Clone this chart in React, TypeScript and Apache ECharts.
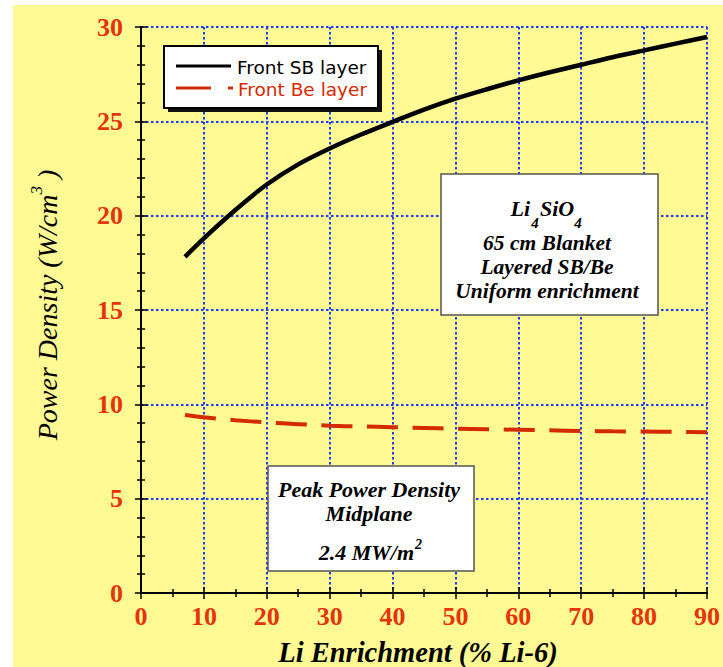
import React, { useEffect, useRef } from "react";
import * as echarts from "echarts";

// Li-6 enrichment (%) at which the power density was evaluated
const enrichment = [7, 10, 15, 20, 25, 30, 35, 40, 45, 50, 55, 60, 65, 70, 75, 80, 85, 90];
// Peak power density (W/cm^3), front SB layer
const frontSB = [
  17.82, 18.8, 20.3, 21.65, 22.72, 23.56, 24.3, 24.97, 25.62, 26.2, 26.7, 27.17, 27.6, 28.0, 28.4,
  28.76, 29.12, 29.47,
];
// Peak power density (W/cm^3), front Be layer
const frontBe = [
  9.43, 9.31, 9.16, 9.04, 8.95, 8.87, 8.83, 8.79, 8.75, 8.71, 8.68, 8.65, 8.62, 8.59, 8.57, 8.56,
  8.54, 8.52,
];

const seriesNames = ["Front SB layer", "Front Be layer"];
const xTitle = "Li Enrichment (% Li-6)";
const yTitle = "Power Density (W/cm";
const blanketLines = ["65 cm Blanket", "Layered SB/Be", "Uniform enrichment"];
const peakLines = ["Peak Power Density", "Midplane"];

const RED_LINE = "#d42a00";
const RED_TEXT = "#e5330a";
const GRID_BLUE = "#1e3cff";
const YELLOW = "#fffa94";
const SERIF = "Liberation Serif, Times New Roman, serif";
const SANS = "DejaVu Sans, Verdana, sans-serif";

export default function App() {
  const ref = useRef<HTMLDivElement>(null);

  useEffect(() => {
    if (!ref.current) return;
    const chart = echarts.init(ref.current, null, { renderer: "svg" });

    const tickLabel = {
      color: RED_TEXT,
      fontFamily: "Liberation Serif",
      fontWeight: "bold" as const,
      fontSize: 26,
    };
    const axisLine = { show: true, lineStyle: { color: "#000", width: 2 } };
    const majorTick = { show: true, inside: true, length: 6, lineStyle: { color: "#000", width: 1.5 } };
    const splitLine = {
      show: true,
      lineStyle: { color: GRID_BLUE, width: 2, type: [2.5, 2.5] as number[] },
    };

    const boxText = (text: string, x: number, y: number, size = 22, lineHeight = 22) => ({
      type: "text",
      x,
      y,
      z: 101,
      style: {
        text,
        fill: "#000",
        font: `italic bold ${size}px ${SERIF}`,
        lineHeight,
        align: "center",
        verticalAlign: "middle",
      },
    });

    chart.setOption({
      animation: false,
      backgroundColor: YELLOW,
      grid: { left: 141, top: 27, right: 11, bottom: 74, containLabel: false },
      xAxis: [
        {
          type: "value",
          min: 0,
          max: 90,
          interval: 10,
          position: "bottom",
          axisLine,
          axisTick: majorTick,
          minorTick: { show: true, splitNumber: 2, length: 4, lineStyle: { color: "#000", width: 1.5 } },
          axisLabel: { ...tickLabel, margin: 10 },
          splitLine,
        },
        {
          type: "value",
          min: 0,
          max: 90,
          interval: 10,
          position: "top",
          axisLine,
          axisTick: majorTick,
          minorTick: { show: true, splitNumber: 2, length: 4, lineStyle: { color: "#000", width: 1.5 } },
          axisLabel: { show: false },
          splitLine: { show: false },
        },
      ],
      yAxis: [
        {
          type: "value",
          min: 0,
          max: 30,
          interval: 5,
          position: "left",
          axisLine,
          axisTick: majorTick,
          minorTick: { show: true, splitNumber: 5, length: 4, lineStyle: { color: "#000", width: 1.5 } },
          axisLabel: { ...tickLabel, margin: 18 },
          splitLine,
        },
        {
          type: "value",
          min: 0,
          max: 30,
          interval: 5,
          position: "right",
          axisLine,
          axisTick: majorTick,
          minorTick: { show: true, splitNumber: 5, length: 4, lineStyle: { color: "#000", width: 1.5 } },
          axisLabel: { show: false },
          splitLine: { show: false },
        },
      ],
      series: [
        {
          name: seriesNames[0],
          type: "line",
          smooth: 0.3,
          symbol: "none",
          z: 5,
          lineStyle: { color: "#000", width: 4.5 },
          data: enrichment.map((x, i) => [x, frontSB[i]]),
        },
        {
          name: seriesNames[1],
          type: "line",
          smooth: 0.3,
          symbol: "none",
          z: 5,
          lineStyle: { color: RED_LINE, width: 4, type: [31, 14.6], cap: "butt" },
          data: enrichment.map((x, i) => [x, frontBe[i]]),
        },
      ],
      graphic: [
        // white page margins around the yellow sheet
        { type: "rect", shape: { x: 0, y: 0, width: 723, height: 5 }, style: { fill: "#fff" }, z: 100 },
        { type: "rect", shape: { x: 0, y: 0, width: 13, height: 667 }, style: { fill: "#fff" }, z: 100 },

        // legend
        { type: "rect", shape: { x: 168, y: 50, width: 214, height: 62 }, style: { fill: "#111" }, z: 100 },
        {
          type: "rect",
          shape: { x: 164, y: 46, width: 214, height: 62 },
          style: { fill: "#fff", stroke: "#000", lineWidth: 2 },
          z: 101,
        },
        { type: "line", shape: { x1: 176, y1: 66, x2: 231, y2: 66 }, style: { stroke: "#000", lineWidth: 3 }, z: 102 },
        { type: "line", shape: { x1: 176, y1: 88, x2: 211, y2: 88 }, style: { stroke: RED_LINE, lineWidth: 3 }, z: 102 },
        { type: "line", shape: { x1: 228, y1: 88, x2: 233, y2: 88 }, style: { stroke: RED_LINE, lineWidth: 3 }, z: 102 },
        {
          type: "text",
          x: 237,
          y: 67,
          z: 102,
          style: { text: seriesNames[0], fill: "#000", font: `18.5px ${SANS}`, align: "left", verticalAlign: "middle" },
        },
        {
          type: "text",
          x: 238,
          y: 89,
          z: 102,
          style: { text: seriesNames[1], fill: RED_LINE, font: `18.5px ${SANS}`, align: "left", verticalAlign: "middle" },
        },

        // blanket description box
        {
          type: "rect",
          shape: { x: 441, y: 174, width: 217, height: 141 },
          style: { fill: "#fff", stroke: "#555", lineWidth: 1.5 },
          z: 100,
        },
        {
          type: "text",
          x: 530,
          y: 208,
          z: 101,
          style: { text: "Li", fill: "#000", font: `italic bold 22px ${SERIF}`, align: "right", verticalAlign: "middle" },
        },
        {
          type: "text",
          x: 535,
          y: 223,
          z: 101,
          style: { text: "4", fill: "#000", font: `italic bold 15px ${SERIF}`, align: "center", verticalAlign: "middle" },
        },
        {
          type: "text",
          x: 540,
          y: 208,
          z: 101,
          style: { text: "SiO", fill: "#000", font: `italic bold 22px ${SERIF}`, align: "left", verticalAlign: "middle" },
        },
        {
          type: "text",
          x: 578,
          y: 223,
          z: 101,
          style: { text: "4", fill: "#000", font: `italic bold 15px ${SERIF}`, align: "center", verticalAlign: "middle" },
        },
        boxText(blanketLines.join("\n"), 547, 267, 21.5, 24),

        // peak power density box
        {
          type: "rect",
          shape: { x: 268, y: 466, width: 206, height: 105 },
          style: { fill: "#fff", stroke: "#555", lineWidth: 1.5 },
          z: 100,
        },
        boxText(peakLines.join("\n"), 369, 501.5, 22, 24),
        {
          type: "text",
          x: 414,
          y: 552,
          z: 101,
          style: { text: "2.4 MW/m", fill: "#000", font: `italic bold 22px ${SERIF}`, align: "right", verticalAlign: "middle" },
        },
        {
          type: "text",
          x: 415,
          y: 544,
          z: 101,
          style: { text: "2", fill: "#000", font: `italic bold 14px ${SERIF}`, align: "left", verticalAlign: "middle" },
        },

        // axis titles
        {
          type: "text",
          x: 418,
          y: 652,
          z: 101,
          style: { text: xTitle, fill: "#000", font: `italic bold 28.5px ${SERIF}`, align: "center", verticalAlign: "middle" },
        },
        {
          type: "text",
          x: 47,
          y: 305,
          rotation: Math.PI / 2,
          z: 101,
          style: {
            text: `{m|${yTitle}}{s|3}{m| )}`,
            fill: "#000",
            align: "center",
            verticalAlign: "middle",
            rich: {
              m: { font: `italic 28px ${SERIF}`, fill: "#000", lineHeight: 38, verticalAlign: "middle" },
              s: { font: `italic 17px ${SERIF}`, fill: "#000", lineHeight: 17, verticalAlign: "top" },
            },
          },
        },
      ],
    });

    return () => chart.dispose();
  }, []);

  return (
    <div
      ref={ref}
      style={{ position: "absolute", left: 0, top: 0, width: 723, height: 667 }}
    />
  );
}
